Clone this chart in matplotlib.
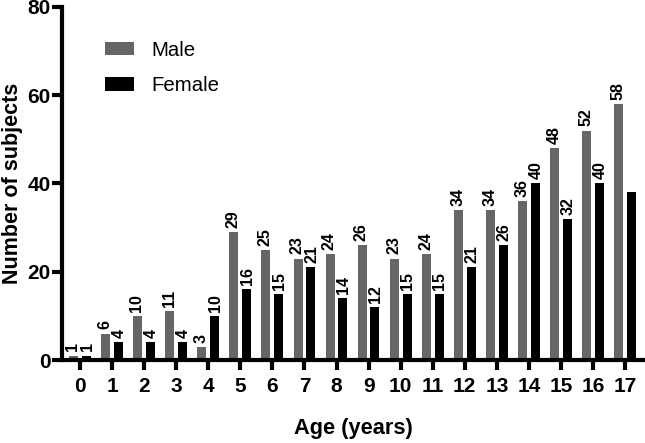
import matplotlib.pyplot as plt
import numpy as np

plt.rcParams['font.family'] = ['Liberation Sans', 'DejaVu Sans']

ages = list(range(18))
male = [1, 6, 10, 11, 3, 29, 25, 23, 24, 26, 23, 24, 34, 34, 36, 48, 52, 58]
female = [1, 4, 4, 4, 10, 16, 15, 21, 14, 12, 15, 15, 21, 26, 40, 32, 40, 38]
# the last female bar carries no number in the original
female_shown = [True] * 17 + [False]

fig = plt.figure(figsize=(6.45, 4.43), dpi=100)
ax = fig.add_axes([62 / 645, 83 / 443, 583 / 645, 353 / 443])

x = np.arange(len(ages))
w = 0.28
off = 0.2
bm = ax.bar(x - off, male, w, color='#666666', label='Male')
bf = ax.bar(x + off, female, w, color='black', label='Female')

def label_bars(bars, vals, shown, dx):
    for rect, v, show in zip(bars, vals, shown):
        if not show:
            continue
        ax.annotate(str(v), (rect.get_x() + rect.get_width() / 2, v),
                    xytext=(dx, 3), textcoords='offset points', rotation=90,
                    ha='center', va='bottom', fontsize=11.5, fontweight='bold',
                    annotation_clip=False)

label_bars(bm, male, [True] * len(male), -0.5)
label_bars(bf, female, female_shown, 0.5)

ax.set_xlim(-0.56, 17.62)
ax.set_ylim(0, 80)
ax.set_xticks(x)
ax.set_xticklabels([str(a) for a in ages])
ax.set_yticks([0, 20, 40, 60, 80])

for s in ['top', 'right']:
    ax.spines[s].set_visible(False)
for s in ['left', 'bottom']:
    ax.spines[s].set_linewidth(3)
ax.tick_params(axis='both', width=3, length=7, labelsize=15)
ax.tick_params(axis='x', pad=5)
ax.tick_params(axis='y', pad=1)
for lab in ax.get_xticklabels() + ax.get_yticklabels():
    lab.set_fontweight('bold')

ax.set_xlabel('Age (years)', fontsize=15.7, fontweight='bold', labelpad=16)
ax.set_ylabel('Number of subjects', fontsize=15.5, fontweight='bold', labelpad=3)

ax.legend(loc='upper left', bbox_to_anchor=(0.074, 0.905), frameon=False,
          fontsize=14.7, handlelength=1.4, handleheight=0.65,
          handletextpad=0.85, labelspacing=0.8, borderpad=0, borderaxespad=0)

fig.savefig('out.png', dpi=100)
